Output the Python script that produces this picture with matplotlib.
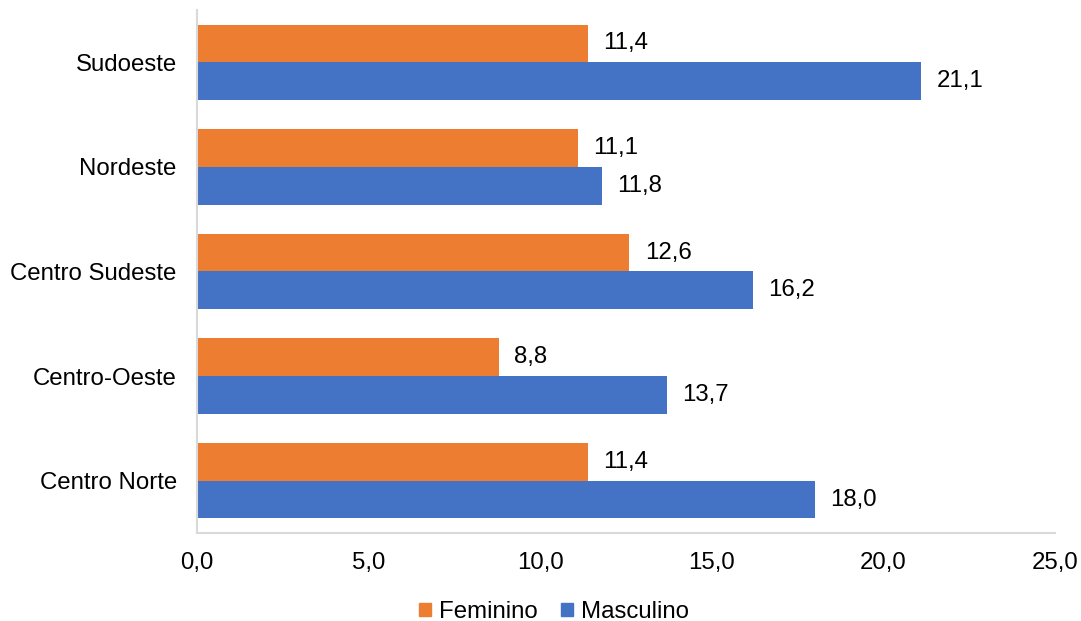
import matplotlib.pyplot as plt
import numpy as np
from matplotlib.patches import Patch

plt.rcParams["font.family"] = ["Liberation Sans", "DejaVu Sans"]

regioes = ["Centro Norte", "Centro-Oeste", "Centro Sudeste", "Nordeste", "Sudoeste"]
feminino = [11.4, 8.8, 12.6, 11.1, 11.4]
masculino = [18.0, 13.7, 16.2, 11.8, 21.1]
x_ticks = [0, 5, 10, 15, 20, 25]

cor_fem = "#ED7D31"
cor_masc = "#4472C4"
fs = 17.3

fig = plt.figure(figsize=(10.81, 6.21), dpi=100)
ax = fig.add_axes([197 / 1081, 88 / 621, (1055 - 197) / 1081, 523 / 621])

y = np.arange(len(regioes))
h = 0.36
bars_f = ax.barh(y + h / 2, feminino, height=h, color=cor_fem)
bars_m = ax.barh(y - h / 2, masculino, height=h, color=cor_masc)

for bars, vals in [(bars_f, feminino), (bars_m, masculino)]:
    for b, v in zip(bars, vals):
        ax.annotate(f"{v:.1f}".replace(".", ","),
                    (b.get_width(), b.get_y() + b.get_height() / 2),
                    xytext=(11, 0), textcoords="offset points",
                    va="center", ha="left", fontsize=fs)

ax.set_xlim(0, 25)
ax.set_ylim(-0.5, len(regioes) - 0.5)
ax.set_yticks(y)
ax.set_yticklabels(regioes, fontsize=fs)
ax.set_xticks(x_ticks)
ax.set_xticklabels([f"{t:.1f}".replace(".", ",") for t in x_ticks], fontsize=fs)
ax.tick_params(length=0)
ax.tick_params(axis="x", pad=13.5)
ax.tick_params(axis="y", pad=14.5)

for s in ["top", "right"]:
    ax.spines[s].set_visible(False)
for s in ["left", "bottom"]:
    ax.spines[s].set_color("#D9D9D9")
    ax.spines[s].set_linewidth(1.5)

handles = [Patch(color=cor_fem, label="Feminino"), Patch(color=cor_masc, label="Masculino")]
fig.legend(handles=handles, loc="center", bbox_to_anchor=(554 / 1081, 9 / 621),
           ncol=2, frameon=False, fontsize=fs, handlelength=0.5, handleheight=0.5,
           handletextpad=0.3, columnspacing=1.0)

fig.savefig("out.png", dpi=100)
